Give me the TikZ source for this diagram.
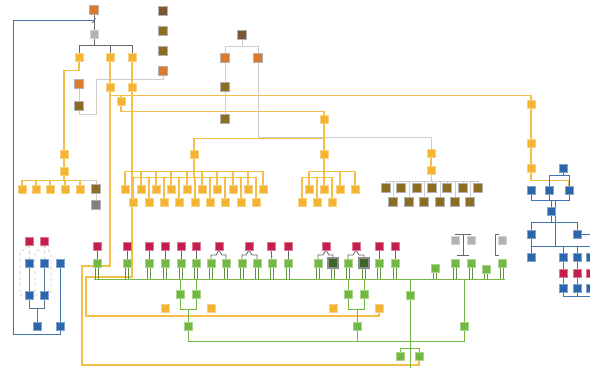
\documentclass[tikz,border=0pt]{standalone}
\usepackage{amsmath}
\usepackage{tikz}
\usetikzlibrary{calc,backgrounds}

\definecolor{gold}{HTML}{F4B331}
\definecolor{goldl}{HTML}{F3BF48}
\definecolor{ochre}{HTML}{8C6D22}
\definecolor{rust}{HTML}{DC7A2E}
\definecolor{umber}{HTML}{7A5731}
\definecolor{crim}{HTML}{C41E4A}
\definecolor{leaf}{HTML}{72B843}
\definecolor{moss}{HTML}{3D6629}
\definecolor{navy}{HTML}{2B66AC}
\definecolor{stone}{HTML}{B2B2B2}

\begin{document}
\begin{tikzpicture}[x=1pt, y=-1pt,
  sq/.style={rectangle, minimum size=7.6pt, inner sep=0pt, line width=0.5pt},
  goldbox/.style={sq, fill=gold, draw=gold!60!white},
  ochrebox/.style={sq, fill=ochre, draw=stone, line width=1.2pt, minimum size=8.4pt},
  rustbox/.style={sq, fill=rust, draw=stone, line width=1.2pt, minimum size=8.4pt},
  umberbox/.style={sq, fill=umber, draw=stone, line width=1.2pt, minimum size=8.4pt},
  crimbox/.style={sq, fill=crim, draw=crim!60!white},
  leafbox/.style={sq, fill=leaf, draw=leaf!60!white},
  mossbox/.style={sq, fill=moss, draw=black!45, line width=1.8pt, minimum size=10pt},
  navybox/.style={sq, fill=navy, draw=navy!60!white},
  stonebox/.style={sq, fill=stone, draw=stone!60!white},
  slatebox/.style={sq, fill=black!50, draw=stone, line width=1.2pt, minimum size=8.4pt},
  goldln/.style={draw=goldl, line width=1.1pt},
  greyln/.style={draw=black!20, line width=0.6pt},
  navyln/.style={draw=navy!90, line width=1pt},
  slateln/.style={draw=navy!45!gray, line width=0.7pt},
  leafln/.style={draw=leaf, line width=1pt},
  tickln/.style={draw=leaf!80!black, line width=0.5pt},
  darkln/.style={draw=black!60, line width=0.8pt}]
\useasboundingbox (0,0) rectangle (590,368);

% top left
\node[rustbox] (top) at (94,10) {};
\node[stonebox] (hub) at (94,34) {};
\coordinate (tap) at (94,20);
\node[goldbox] (ya) at (79,57) {};
\node[goldbox] (yb) at (110,57) {};
\node[goldbox] (yc) at (132,57) {};
\node[rustbox] (yd) at (79,84) {};
\node[ochrebox] (ye) at (79,106) {};
\node[goldbox] (yf) at (110,87) {};
\node[goldbox] (yg) at (132,87) {};
\node[goldbox] (yh) at (121,101) {};
\node[umberbox] (c1) at (163,11) {};
\node[ochrebox] (c2) at (163,31) {};
\node[ochrebox] (c3) at (163,51) {};
\node[rustbox] (c4) at (163,71) {};

\node[goldbox] (l1) at (64,154) {};
\node[goldbox] (l2) at (64,171) {};
\foreach \x [count=\i] in {22,36,50,65,80}
  \node[goldbox] (lr\i) at (\x,189) {};
\node[ochrebox] (lo) at (96,189) {};
\node[slatebox] (lg) at (96,205) {};

% top middle
\node[umberbox] (t0) at (242,35) {};
\node[rustbox] (t1) at (225,58) {};
\node[rustbox] (t2) at (258,58) {};
\node[ochrebox] (t3) at (225,87) {};
\node[ochrebox] (t4) at (225,119) {};

\node[goldbox] (m1) at (324,119) {};
\node[goldbox] (m2) at (194,154) {};
\node[goldbox] (m3) at (324,154) {};
\foreach \x [count=\i] in {125,141,156,171,187,202,217,233,248,263}
  \node[goldbox] (p\i) at (\x,189) {};
\foreach \x [count=\i] in {133,149,164,179,195,210,225,241,256}
  \node[goldbox] (q\i) at (\x,202) {};
\foreach \x [count=\i] in {309,324,340,355}
  \node[goldbox] (s\i) at (\x,189) {};
\foreach \x [count=\i] in {302,317,332}
  \node[goldbox] (u\i) at (\x,202) {};

\node[goldbox] (n1) at (431,153) {};
\node[goldbox] (n2) at (431,170) {};
\foreach \x [count=\i] in {386,401,417,432,447,463,478}
  \node[ochrebox] (o\i) at (\x,188) {};
\foreach \x [count=\i] in {393,409,424,440,455,470}
  \node[ochrebox] (v\i) at (\x,202) {};

% right column
\node[goldbox] (r1) at (531,104) {};
\node[goldbox] (r2) at (531,143) {};
\node[goldbox] (r3) at (531,168) {};
\node[navybox] (b1) at (563,168) {};
\node[navybox] (b2) at (531,190) {};
\node[navybox] (b3) at (549,190) {};
\node[navybox] (b4) at (569,190) {};
\node[navybox] (b5) at (551,211) {};
\node[navybox] (b6) at (531,234) {};
\node[navybox] (b7) at (577,234) {};
\node[navybox] (b8) at (531,257) {};
\node[navybox] (b9) at (563,257) {};
\node[navybox] (b10) at (577,257) {};
\node[navybox] (b11) at (590,257) {};
\node[crimbox] (k1) at (563,273) {};
\node[crimbox] (k2) at (577,273) {};
\node[crimbox] (k3) at (590,273) {};
\node[navybox] (b12) at (563,288) {};
\node[navybox] (b13) at (577,288) {};
\node[navybox] (b14) at (590,288) {};
\coordinate (bj) at (555,246);

% left cluster
\node[crimbox] (lk1) at (29,241) {};
\node[crimbox] (lk2) at (44,241) {};
\node[navybox] (lb1) at (29,263) {};
\node[navybox] (lb2) at (44,263) {};
\node[navybox] (lb3) at (60,263) {};
\node[navybox] (lc1) at (29,295) {};
\node[navybox] (lc2) at (44,295) {};
\node[navybox] (ld1) at (37,326) {};
\node[navybox] (ld2) at (60,326) {};

% red and green rows
\foreach \x [count=\i] in {97,127,149,165,181,196,219,249,271,288,326,356,379,395}
  \node[crimbox] (e\i) at (\x,246) {};
\foreach \x/\s [count=\i] in {97/leafbox,127/leafbox,149/leafbox,165/leafbox,181/leafbox,
    196/leafbox,211/leafbox,226/leafbox,242/leafbox,257/leafbox,272/leafbox,288/leafbox,
    318/leafbox,333/mossbox,348/leafbox,364/mossbox,379/leafbox,395/leafbox}
  \node[\s] (g\i) at (\x,263) {};
\node[leafbox] (g19) at (435,268) {};
\node[leafbox] (g20) at (455,263) {};
\node[leafbox] (g21) at (471,263) {};
\node[leafbox] (g22) at (486,269) {};
\node[leafbox] (g23) at (502,263) {};
\node[stonebox] (gy1) at (455,240) {};
\node[stonebox] (gy2) at (471,240) {};
\node[stonebox] (gy3) at (502,240) {};
\coordinate (busW) at (94,279);
\coordinate (busE) at (505,279);

\node[leafbox] (gu1) at (180,294) {};
\node[leafbox] (gu2) at (196,294) {};
\node[leafbox] (gu3) at (348,294) {};
\node[leafbox] (gu4) at (364,294) {};
\node[leafbox] (gu5) at (410,295) {};
\node[leafbox] (gm1) at (188,326) {};
\node[leafbox] (gm2) at (357,326) {};
\node[leafbox] (gm3) at (464,326) {};
\node[leafbox] (z1) at (400,356) {};
\node[leafbox] (z2) at (419,356) {};
\coordinate (zfork) at (410,348);
\coordinate (zfoot) at (410,368);

\node[goldbox] (yq1) at (165,308) {};
\node[goldbox] (yq2) at (211,308) {};
\node[goldbox] (yq3) at (333,308) {};
\node[goldbox] (yq4) at (379,308) {};

\begin{scope}[on background layer]
\fill[white] (0,0) rectangle (590,368);

\draw[darkln] (top) -- (hub);
\draw[darkln] (tap) ++(-1.5,3) -- ++(3,-5);
\draw[navyln] (tap) -- (13,20) -- (13,334) -| (ld2.south);
\foreach \n in {ya,yb,yc}
  \draw[darkln] (hub.south) -- ++(0,7.5) -| (\n.north);
\draw[greyln] (yd) -- (ye);
\draw[greyln] (ye.south) -- ++(0,3) -| (96,79) -| (c4.south);
\draw[goldln] (ya.south) -- ++(0,9.5) -| (l1.north);
\draw[goldln] (l1) -- (l2);
\draw[greyln] (l2.south) -- ++(0,5.5) -| (lo.north);
\draw[greyln] (lo) -- (lg);
\foreach \i in {1,...,5}
  \draw[goldln] (l2.south) -- ++(0,5.5) -| (lr\i.north);
\draw[goldln] (yb) -- (yf);
\draw[goldln] (yc) -- (yg);
\draw[goldln] (yf.south) -- ++(0,4.5) -| (r1.north);
\draw[goldln] (yf.south) -- ++(0,4.5) -| (yh.north);
\draw[goldln] (yh.south) -- ++(0,6.5) -| (m1.north);
\draw[goldln] (yf.south) -- (110,266) -- (82,266) -- (82,365) -| (z2.south);
\draw[goldln] (yg.south) -- (132,277) -- (86,277) -- (86,316) -| (yq4.south);

\draw[greyln] (t0.south) -- ++(0,6) -| (t1.north);
\draw[greyln] (t0.south) -- ++(0,6) -| (t2.north);
\draw[greyln] (t1) -- (t3) -- (t4);
\draw[greyln] (t2.south) -- ++(0,74) -| (n1.north);
\draw[goldln] (n1) -- (n2);
\foreach \i in {1,...,7}
  \draw[greyln] (n2.south) -- ++(0,7.5) -| (o\i.north);
\foreach \i in {1,...,6}
  \draw[greyln] (n2.south) -- ++(0,7.5) -| (v\i.north);

\draw[goldln] (m1.south) -- ++(0,15.5) -| (m2.north);
\draw[goldln] (m1) -- (m3);
\foreach \i in {1,...,10}
  \draw[goldln] (m2.south) -- ++(0,13.5) -| (p\i.north);
\foreach \i in {1,...,9}
  \draw[goldln] (m2.south) -- ++(0,19) -| (q\i.north);
\foreach \i in {1,...,4}
  \draw[goldln] (m3.south) -- ++(0,13.5) -| (s\i.north);
\foreach \i in {1,...,3}
  \draw[goldln] (m3.south) -- ++(0,19) -| (u\i.north);

\draw[goldln] (r1) -- (r2) -- (r3);
\draw[goldln] (r3.south) -- ++(0,8) -| (b4.north);
\draw[navyln] (b1.south) -- ++(0,3.5) -| (b3.north);
\draw[navyln] (b1.south) -- ++(0,3.5) -| (b4.north);
\foreach \n in {b2,b3,b4}
  \draw[navyln] (\n.south) -- ++(0,6.5) -| (b5.north);
\draw[navyln] (b4.south) -- ++(0,6.5) -| (bj);
\draw[navyln] (b5.south) -- ++(0,7.5) -| (b6.north);
\draw[navyln] (b5.south) -- ++(0,7.5) -| (b7.north);
\draw[navyln] (b7.east) -- ++(14,0);
\draw[navyln] (b6) -- (b8);
\foreach \n in {b8,b9,b10,b11}
  \draw[navyln] (bj) -| (\n.north);
\draw[slateln] (b9) -- (k1) -- (b12);
\draw[slateln] (b10) -- (k2) -- (b13);
\draw[slateln] (b11) -- (k3) -- (b14);
\draw[navyln] (b12.south) -- ++(0,4.5) -| (b13.south);
\draw[navyln] (b12.south) -- ++(0,4.5) -| (b14.south);

\draw[greyln, dashed] (lk1) -- (lb1);
\draw[greyln, dashed] (lk2) -- (lb2);
\draw[slateln] (lb1) -- (lc1);
\draw[slateln] (lb2) -- (lc2);
\draw[greyln, dashed] (lk1.south) -- ++(-9,8) |- (lc1.west);
\draw[greyln, dashed] (lk2.south) -- ++(-9,8) |- (lc2.west);
\draw[greyln, dashed] (lk2.south) -- ++(7,8) |- (lc2.east);
\draw[slateln] (lc1.south) -- ++(0,9) -| (ld1.north);
\draw[slateln] (lc2.south) -- ++(0,9) -| (ld1.north);
\draw[navyln] (lb3) -- (ld2);

\foreach \a/\b in {1/1,2/2,3/3,4/4,5/5,6/6,9/11,10/12,13/17,14/18}
  \draw[darkln] (e\a) -- (g\b);
\foreach \a/\l/\r in {7/7/8,8/9/10,11/13/14,12/15/16} {
  \draw[darkln] (e\a.south) -- ++(-3,5) -| (g\l.north);
  \draw[darkln] (e\a.south) -- ++(3,5) -| (g\r.north);
}
\draw[darkln] ($(gy1)+(0,-6)$) -- ($(gy2)+(0,-6)$);
\draw[darkln] ($(gy1)!0.5!(gy2)+(0,-6)$) -- ($(gy1)!0.5!(gy2)+(0,15)$);
\draw[darkln] ($(gy1)+(2,15)$) -- ($(gy2)+(-2,15)$);
\draw[darkln] ($(gy3)+(-3,-6)$) -- ($(gy3)+(-7,-6)$) -- ($(gy3)+(-7,15)$) -- ($(gy3)+(-3,15)$);

\draw[leafln] (busW) -- (busE);
\foreach \i in {1,...,23} {
  \draw[tickln] ($(g\i.south)+(-1.5,0)$) -- ($(g\i.south |- busW)+(-1.5,0)$);
  \draw[tickln] ($(g\i.south)+(1.5,0)$) -- ($(g\i.south |- busW)+(1.5,0)$);
}
\foreach \n in {gu1,gu2,gu3,gu4,gu5,gm3}
  \draw[leafln] (\n.north |- busW) -- (\n.north);
\draw[leafln] (gu1.south) -- ++(0,11) -| (gm1.north);
\draw[leafln] (gu2.south) -- ++(0,11) -| (gm1.north);
\draw[leafln] (gu3.south) -- ++(0,11) -| (gm2.north);
\draw[leafln] (gu4.south) -- ++(0,11) -| (gm2.north);
\draw[leafln] (gm1.south) -- ++(0,11.5) -| (gm3.south);
\draw[leafln] (gm2.south) -- ++(0,11.5);
\draw[leafln] (gu5.south) -- (zfork) -| (z1.north);
\draw[leafln] (zfork) -| (z2.north);
\draw[leafln] (zfork) -- (zfoot);
\end{scope}
\end{tikzpicture}
\end{document}
